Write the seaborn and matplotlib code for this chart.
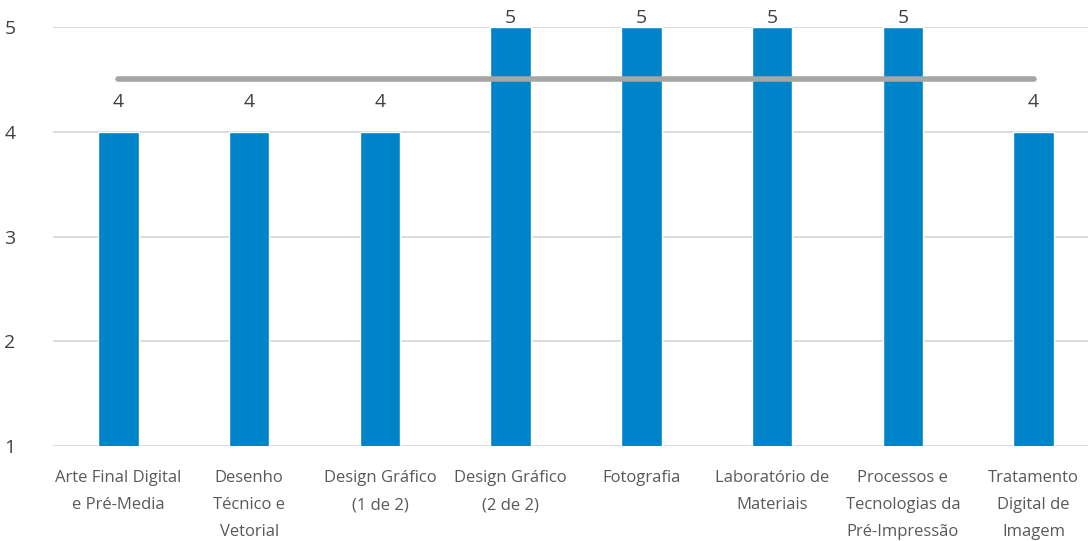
import numpy as np
import pandas as pd
import matplotlib
matplotlib.use("Agg")
import matplotlib.pyplot as plt
import seaborn as sns

categories = ["Arte Final Digital\ne Pré-Media", "Desenho\nTécnico e\nVetorial",
              "Design Gráfico\n(1 de 2)", "Design Gráfico\n(2 de 2)", "Fotografia",
              "Laboratório de\nMateriais", "Processos e\nTecnologias da\nPré-Impressão",
              "Tratamento\nDigital de\nImagem"]
values = [4, 4, 4, 5, 5, 5, 5, 4]
average = 4.5
y_ticks = [1, 2, 3, 4, 5]

sns.set_style("white")
plt.rcParams['font.family'] = ['Open Sans', 'DejaVu Sans']

df = pd.DataFrame({"curso": categories, "valor": values})

fig = plt.figure(figsize=(10.88, 5.41), dpi=100)
# plot area runs slightly past the right edge, like the original
ax = fig.add_axes([53 / 1088, 95 / 541, 1046 / 1088, (446 - 27) / 541])

sns.barplot(data=df, x="curso", y="valor", color="#0084C9", saturation=1,
            width=0.31, ax=ax, zorder=2)

# average line across categories
ax.plot([0, len(values) - 1], [average, average], color="#A6A6A6", lw=4,
        solid_capstyle="round", zorder=3)

ax.set_ylim(1, 5)
ax.set_xlim(-0.5, len(values) - 0.5)

top = ax.get_ylim()[1]
for i, v in enumerate(values):
    ax.text(i, min(v + 0.2, top), str(v), ha="center", va="bottom", fontsize=14,
            color="#404040", clip_on=False, zorder=4)

ax.set_yticks(y_ticks)
ax.yaxis.grid(True, color="#D9D9D9", lw=1.3, zorder=0)
ax.set_axisbelow(True)
for s in ax.spines.values():
    s.set_visible(False)
ax.tick_params(axis="y", length=0, pad=27, labelsize=14, labelcolor="#404040")
ax.tick_params(axis="x", length=0, pad=17, labelsize=12, labelcolor="#595959")
for lab in ax.get_xticklabels():
    lab.set_linespacing(1.95)
ax.set_xlabel("")
ax.set_ylabel("")

fig.savefig("out.png", dpi=100)
